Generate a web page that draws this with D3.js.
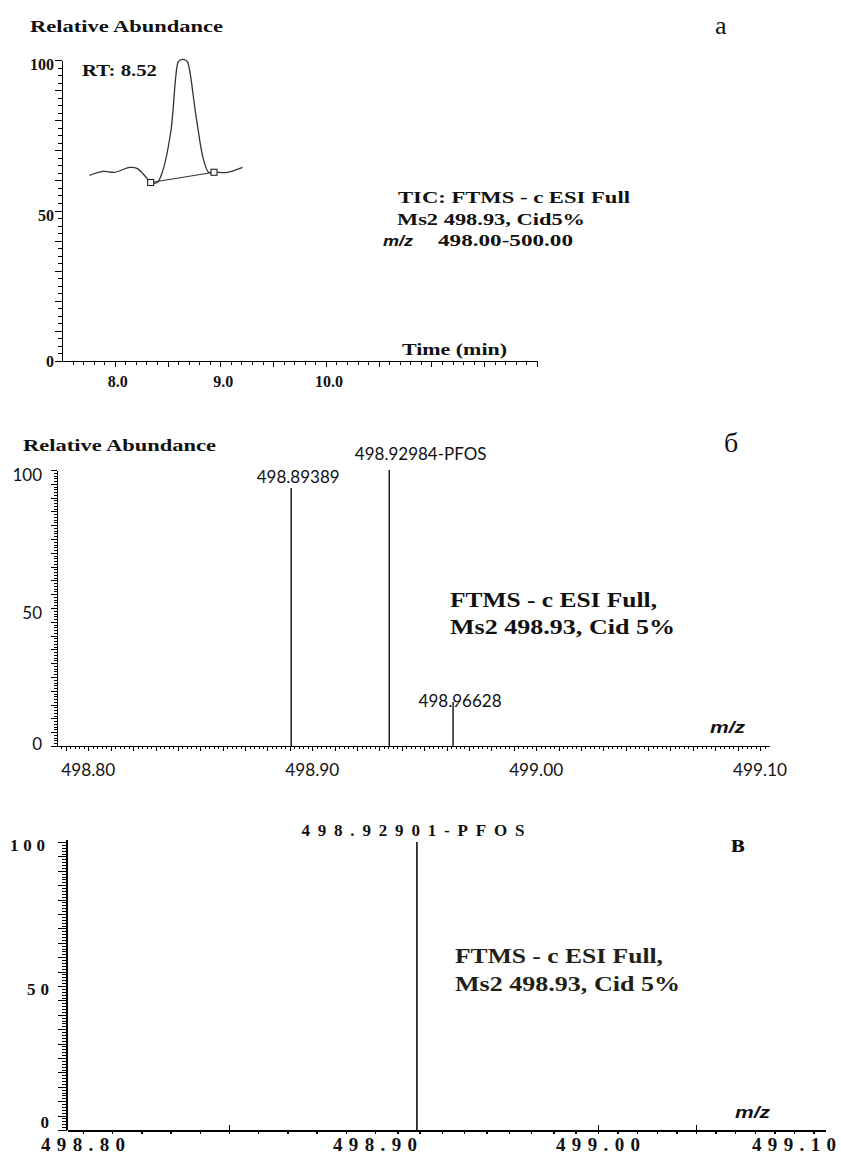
<!DOCTYPE html>
<html>
<head>
<meta charset="utf-8">
<title>PFOS - TIC and Ms2 spectra</title>
<script src="https://d3js.org/d3.v7.min.js"></script>
<style>
html, body { margin: 0; padding: 0; background: #fff; }
svg text { fill: #111; }
.serif { font-family: "Liberation Serif", "Times New Roman", serif; font-weight: bold; }
.plain { font-family: "Liberation Serif", "Times New Roman", serif; }
.sans { font-family: "Lato", "Liberation Sans", sans-serif; }
.mz { font-family: "Liberation Sans", Arial, sans-serif; font-style: italic; font-weight: bold; }
.tick line, .domain { stroke: #000; shape-rendering: crispEdges; }
</style>
</head>
<body>
<svg width="841" height="1157"></svg>
<script>
// panel a: TIC
var ticTime  = [7.76, 7.89, 8.00, 8.14, 8.21, 8.29, 8.34, 8.40, 8.45, 8.53, 8.60, 8.62, 8.67, 8.69, 8.77, 8.84, 8.89, 8.94, 9.07, 9.21];
var ticAbund = [61.7, 63.0, 62.7, 64.3, 64.0, 61.3, 59.3, 59.3, 62.7, 76.0, 99.3, 100, 100, 99.3, 81.3, 67.0, 62.7, 62.7, 62.7, 64.3];
var rtMarkTime  = [8.34, 8.94];
var rtMarkAbund = [59.3, 62.7];
var timeTicks = [8.0, 9.0, 10.0];
var timeTickLabels = ["8.0", "9.0", "10.0"];

// panel б: Ms2 spectrum
var peakMzB    = [498.8906, 498.9344, 498.9629];
var peakAbundB = [93.5, 100, 15.9];
var peakTextB  = ["498.89389", "498.92984-PFOS", "498.96628"];

// panel в: Ms2 spectrum
var peakMzC    = [498.9188];
var peakAbundC = [100];
var peakTextC  = ["498.92901-PFOS"];

var mzTicks = [498.80, 498.90, 499.00, 499.10];
var mzTickLabels = ["498.80", "498.90", "499.00", "499.10"];
var abundTicks = [0, 50, 100];

var svg = d3.select("svg");

function txt(g, s, x, y, cls, size, len, anchor, adjust) {
  var t = g.append("text").attr("class", cls).attr("x", x).attr("y", y)
    .attr("font-size", size).attr("text-anchor", anchor || "start").text(s);
  if (len) t.attr("textLength", len).attr("lengthAdjust", adjust || "spacingAndGlyphs");
  return t;
}
function noDomain(g) { g.select(".domain").remove(); }

// ---------------- panel a
var xa = d3.scaleLinear().domain([7.5, 12.0]).range([62, 537]);
var ya = d3.scaleLinear().domain([0, 100]).range([361, 60]);
var ga = svg.append("g");

ga.append("g").attr("transform", "translate(0," + ya(0) + ")")
  .call(d3.axisBottom(xa).tickValues(d3.range(7.6, 12.0, 0.1)).tickSize(4).tickSizeOuter(0).tickFormat(""));
ga.append("g").attr("transform", "translate(0," + ya(0) + ")")
  .call(d3.axisBottom(xa).tickValues(d3.range(8, 12.5, 0.5)).tickSize(6).tickFormat("")).call(noDomain);
ga.append("g").attr("transform", "translate(" + xa(7.5) + ",0)")
  .call(d3.axisLeft(ya).tickValues(d3.range(0, 100.1, 2.5)).tickSize(4).tickSizeOuter(0).tickFormat(""));
ga.append("g").attr("transform", "translate(" + xa(7.5) + ",0)")
  .call(d3.axisLeft(ya).tickValues(d3.range(0, 101, 10)).tickSize(7).tickFormat("")).call(noDomain);

timeTicks.forEach(function(t, i) {
  txt(ga, timeTickLabels[i], xa(t) + 3, ya(0) + 26, "serif", 16, null, "middle");
});
abundTicks.forEach(function(v) {
  txt(ga, v, 54, ya(v) + (v === 0 ? 1 : 5), "serif", 16, null, "end").attr("dy", "0.32em");
});

ga.append("path")
  .datum(d3.zip(ticTime, ticAbund))
  .attr("fill", "none").attr("stroke", "#333").attr("stroke-width", 1.3)
  .attr("d", d3.line().x(function(d) { return xa(d[0]); }).y(function(d) { return ya(d[1]); })
    .curve(d3.curveCatmullRom));
ga.append("line")
  .attr("x1", xa(rtMarkTime[0])).attr("y1", ya(rtMarkAbund[0]))
  .attr("x2", xa(rtMarkTime[1])).attr("y2", ya(rtMarkAbund[1]))
  .attr("stroke", "#333").attr("stroke-width", 1.2);
ga.selectAll("rect.mark").data(rtMarkTime).enter().append("rect")
  .attr("class", "mark")
  .attr("x", function(d) { return xa(d) - 3; })
  .attr("y", function(d, i) { return ya(rtMarkAbund[i]) - 3; })
  .attr("width", 6).attr("height", 6)
  .attr("fill", "#fff").attr("stroke", "#222").attr("stroke-width", 1.1);

txt(ga, "Relative Abundance", 30, 32, "serif", 17, 193);
txt(ga, "RT: 8.52", 82, 76, "serif", 16, 75);
txt(ga, "Time (min)", 402, 355, "serif", 16, 105);
txt(ga, "TIC: FTMS - c ESI Full", 398, 203, "serif", 16, 232);
txt(ga, "Ms2 498.93, Cid5%", 397, 225, "serif", 16, 188);
txt(ga, "m/z", 383, 246, "mz", 15, 30);
txt(ga, "498.00-500.00", 438, 246, "serif", 16, 135);
txt(ga, "а", 715, 34, "plain", 26);

// ---------------- panel б
var xb = d3.scaleLinear().domain([498.786, 499.104]).range([57, 769]);
var yb = d3.scaleLinear().domain([0, 100]).range([746, 470]);
var gb = svg.append("g");

gb.append("g").attr("transform", "translate(0," + yb(0) + ")")
  .call(d3.axisBottom(xb).tickValues(d3.range(498.788, 499.104, 0.002)).tickSize(3).tickSizeOuter(0).tickFormat(""));
gb.append("g").attr("transform", "translate(0," + yb(0) + ")")
  .call(d3.axisBottom(xb).tickValues(d3.range(498.79, 499.104, 0.01)).tickSize(5).tickFormat("")).call(noDomain);
gb.append("g").attr("transform", "translate(" + xb(498.786) + ",0)")
  .call(d3.axisLeft(yb).tickValues(d3.range(0, 100.1, 1)).tickSize(3).tickSizeOuter(0).tickFormat(""));
gb.append("g").attr("transform", "translate(" + xb(498.786) + ",0)")
  .call(d3.axisLeft(yb).tickValues(d3.range(0, 101, 5)).tickSize(6).tickFormat("")).call(noDomain);

mzTicks.forEach(function(t, i) {
  txt(gb, mzTickLabels[i], xb(t), yb(0) + 30, "sans", 17, 54, "middle");
});
abundTicks.forEach(function(v) {
  txt(gb, v, 42, yb(v) + (v === 0 ? -1 : 6), "sans", 17, null, "end").attr("dy", "0.32em");
});

gb.selectAll("line.peak").data(peakMzB).enter().append("line")
  .attr("class", "peak")
  .attr("x1", function(d) { return xb(d); }).attr("x2", function(d) { return xb(d); })
  .attr("y1", yb(0)).attr("y2", function(d, i) { return yb(peakAbundB[i]); })
  .attr("stroke", "#111").attr("stroke-width", 1.4);

var labelDyB = [-5, -10, 5];
peakMzB.forEach(function(m, i) {
  var t = txt(gb, peakTextB[i], 0, yb(peakAbundB[i]) + labelDyB[i], "sans", 17);
  // centre the numeric part on the line
  var probe = txt(gb, peakTextB[i].split("-")[0], 0, -50, "sans", 17);
  var w = probe.node().getComputedTextLength();
  probe.remove();
  t.attr("x", xb(m) + 7 - w / 2);
});

txt(gb, "Relative Abundance", 23, 451, "serif", 17, 193);
txt(gb, "FTMS - c ESI Full,", 450, 607, "serif", 21, 207);
txt(gb, "Ms2 498.93, Cid 5%", 450, 634, "serif", 21, 225);
txt(gb, "m/z", 710, 733, "mz", 17, 35);
txt(gb, "б", 724, 452, "plain", 28);

// ---------------- panel в
var xc = d3.scaleLinear()
  .domain([498.7945, 498.80, 498.90, 499.00, 499.10, 499.1158])
  .range([67, 83, 375, 598, 794, 825]);
var yc = d3.scaleLinear().domain([0, 100]).range([1130, 842]);
var gc = svg.append("g");

gc.append("g").attr("transform", "translate(0," + yc(0) + ")")
  .call(d3.axisBottom(xc).tickValues(d3.range(498.80, 499.11, 0.01)).tickSize(4).tickSizeOuter(0).tickFormat(""))
  .call(function(g) { g.selectAll("line").attr("stroke-width", 1.5); g.select(".domain").attr("stroke-width", 2); });
gc.append("g").attr("transform", "translate(0," + yc(0) + ")")
  .call(d3.axisTop(xc).tickValues([498.85, 499.00, 499.05]).tickSize(5).tickFormat("")).call(noDomain);
gc.append("g").attr("transform", "translate(" + xc(498.7945) + ",0)")
  .call(d3.axisLeft(yc).tickValues(d3.range(0, 100.1, 1)).tickSize(5).tickSizeOuter(0).tickFormat(""))
  .call(function(g) { g.select(".domain").attr("stroke-width", 2).attr("d", "M0," + yc(0) + "V" + (yc(100) - 2)); });
gc.append("g").attr("transform", "translate(" + xc(498.7945) + ",0)")
  .call(d3.axisLeft(yc).tickValues(d3.range(0, 101, 5)).tickSize(9).tickFormat("")).call(noDomain);

mzTicks.forEach(function(t, i) {
  txt(gc, mzTickLabels[i], xc(t), yc(0) + 21, "serif", 19, 84, "middle", "spacing");
});
var abundLenC = { 0: null, 50: 22, 100: 35 };
abundTicks.forEach(function(v) {
  txt(gc, v, v === 100 ? 45 : 49, yc(v) + (v === 0 ? -7 : 4), "serif", 17, abundLenC[v], "end", "spacing").attr("dy", "0.32em");
});

gc.selectAll("line.peak").data(peakMzC).enter().append("line")
  .attr("class", "peak")
  .attr("x1", function(d) { return xc(d); }).attr("x2", function(d) { return xc(d); })
  .attr("y1", yc(0)).attr("y2", function(d, i) { return yc(peakAbundC[i]); })
  .attr("stroke", "#111").attr("stroke-width", 1.6);
peakMzC.forEach(function(m, i) {
  txt(gc, peakTextC[i], xc(m) - 4, yc(peakAbundC[i]) - 6, "serif", 17, 223, "middle", "spacing");
});

txt(gc, "FTMS - c ESI Full,", 455, 963, "serif", 21, 208).style("fill", "#231f16");
txt(gc, "Ms2 498.93, Cid 5%", 455, 991, "serif", 21, 225).style("fill", "#231f16");
txt(gc, "m/z", 735, 1118, "mz", 17, 35);
txt(gc, "в", 731, 852, "serif", 26);
</script>
</body>
</html>
